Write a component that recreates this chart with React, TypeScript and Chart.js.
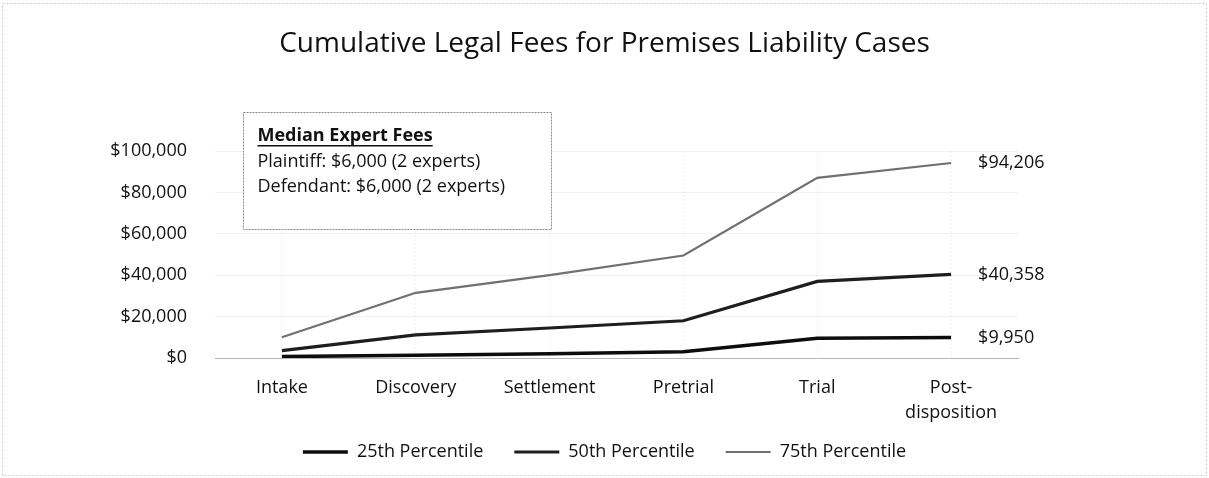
import React, { useEffect, useRef } from "react";
import { Chart, registerables } from "chart.js";

Chart.register(...registerables);

// ---- data ----
const categories: (string | string[])[] = [
  "Intake",
  "Discovery",
  "Settlement",
  "Pretrial",
  "Trial",
  ["Post-", "disposition"],
];
const p25 = [700, 1300, 2000, 3000, 9500, 9950];
const p50 = [3600, 11200, 14500, 18000, 37000, 40358];
const p75 = [10000, 31500, 40000, 49500, 87000, 94206];
const seriesNames = ["25th Percentile", "50th Percentile", "75th Percentile"];
const yTickValues = [0, 20000, 40000, 60000, 80000, 100000];
const titleText = "Cumulative Legal Fees for Premises Liability Cases";
const noteTitle = "Median Expert Fees";
const noteLines = ["Plaintiff: $6,000 (2 experts)", "Defendant: $6,000 (2 experts)"];

const FONT = "'Open Sans', 'DejaVu Sans', sans-serif";
const money = (v: number) => "$" + Math.round(v).toLocaleString("en-US");

const decorPlugin = {
  id: "decor",
  beforeDraw(chart: any) {
    const { ctx, width, height } = chart;
    ctx.save();
    ctx.strokeStyle = "#c8c8c8";
    ctx.lineWidth = 1;
    ctx.setLineDash([2, 2]);
    ctx.strokeRect(2.5, 3.5, width - 5, height - 6);
    ctx.restore();
  },
  afterDatasetsDraw(chart: any) {
    const { ctx, chartArea } = chart;
    ctx.save();
    // end-of-line value labels
    ctx.font = `18px ${FONT}`;
    ctx.fillStyle = "#111";
    ctx.textAlign = "left";
    ctx.textBaseline = "middle";
    chart.data.datasets.forEach((ds: any, i: number) => {
      const meta = chart.getDatasetMeta(i);
      const last = meta.data[meta.data.length - 1];
      const v = ds.data[ds.data.length - 1];
      ctx.fillText(money(v), last.x + 27, last.y);
    });
    // annotation box
    const bx = chartArea.left + 28.5;
    const by = chartArea.top - 38.5;
    const bw = 308;
    const bh = 117;
    ctx.fillStyle = "#fff";
    ctx.fillRect(bx, by, bw, bh);
    ctx.strokeStyle = "#8a8a8a";
    ctx.lineWidth = 1;
    ctx.setLineDash([2, 1]);
    ctx.strokeRect(bx, by, bw, bh);
    ctx.setLineDash([]);
    const tx = bx + 14;
    ctx.fillStyle = "#111";
    ctx.font = `bold 18px ${FONT}`;
    ctx.fillText(noteTitle, tx, by + 23);
    const w = ctx.measureText(noteTitle).width;
    ctx.fillRect(tx, by + 32.5, w, 1.5);
    ctx.font = `18px ${FONT}`;
    noteLines.forEach((l, i) => ctx.fillText(l, tx, by + 49.5 + i * 24.5));
    ctx.restore();
  },
};

export default function App() {
  const ref = useRef<HTMLCanvasElement | null>(null);
  useEffect(() => {
    document.body.style.margin = "0";
    const canvas = ref.current!;
    const chart = new Chart(canvas, {
      type: "line",
      data: {
        labels: categories as any,
        datasets: [
          {
            label: seriesNames[0],
            data: p25,
            borderColor: "#0d0d0d",
            backgroundColor: "#0d0d0d",
            borderWidth: 3.5,
            pointRadius: 0,
            tension: 0,
          },
          {
            label: seriesNames[1],
            data: p50,
            borderColor: "#1e1e1e",
            backgroundColor: "#1e1e1e",
            borderWidth: 3.2,
            pointRadius: 0,
            tension: 0,
          },
          {
            label: seriesNames[2],
            data: p75,
            borderColor: "#707070",
            backgroundColor: "#707070",
            borderWidth: 2.2,
            pointRadius: 0,
            tension: 0,
          },
        ],
      },
      options: {
        responsive: false,
        animation: false,
        devicePixelRatio: 1,
        layout: { padding: { left: 0, right: 0, top: 0, bottom: 7 } },
        plugins: {
          title: {
            display: true,
            text: titleText,
            color: "#111",
            font: { family: FONT, size: 28, weight: "normal", lineHeight: 1.2 },
            padding: { top: 27.2, bottom: 90.2 },
          },
          legend: {
            display: true,
            position: "bottom",
            labels: {
              usePointStyle: true,
              pointStyle: "line",
              pointStyleWidth: 45,
              color: "#111",
              padding: 17,
              font: { family: FONT, size: 18 },
              generateLabels: (chart: any) => {
                const items = Chart.defaults.plugins.legend.labels.generateLabels(chart);
                return items.map((it: any, i: number) => ({
                  ...it,
                  text: i < items.length - 1 ? it.text + "   " : it.text,
                }));
              },
            },
          },
          tooltip: { enabled: false },
        },
        scales: {
          x: {
            offset: true,
            grid: {
              display: true,
              drawTicks: false,
              offset: false,
              color: "rgba(0,0,0,0.06)",
            },
            border: { display: true, color: "#b5b5b5", dash: [2, 2], width: 1 },
            ticks: {
              color: "#111",
              padding: 17.5,
              maxRotation: 0,
              autoSkip: false,
              font: { family: FONT, size: 18, lineHeight: 1.39 },
            },
            afterFit: (s: any) => {
              s.height = 68;
            },
          },
          y: {
            min: 0,
            max: 100000,
            afterBuildTicks: (s: any) => {
              s.ticks = yTickValues.map((v) => ({ value: v }));
            },
            grid: { display: true, drawTicks: false, color: "rgba(0,0,0,0.05)" },
            border: { display: false },
            ticks: {
              color: "#111",
              padding: 28,
              font: { family: FONT, size: 18 },
              callback: (v: any) => money(Number(v)),
            },
            afterFit: (s: any) => {
              s.width = 215;
            },
          },
          y2: {
            type: "linear",
            position: "right",
            display: true,
            grid: { display: false, drawTicks: false },
            border: { display: false },
            ticks: { display: false },
            afterFit: (s: any) => {
              s.width = 191;
            },
          },
        },
      } as any,
      plugins: [decorPlugin],
    });
    return () => chart.destroy();
  }, []);
  return (
    <div style={{ width: 1209, height: 478 }}>
      <canvas ref={ref} width={1209} height={478} style={{ display: "block" }} />
    </div>
  );
}
